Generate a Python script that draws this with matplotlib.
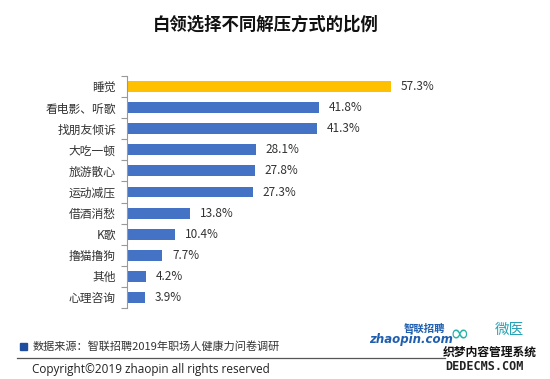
import matplotlib
matplotlib.use("Agg")
import matplotlib.pyplot as plt
from matplotlib.patches import Rectangle
from matplotlib.lines import Line2D

plt.rcParams['font.family'] = ['Noto Sans CJK SC', 'DejaVu Sans']

categories = ["睡觉", "看电影、听歌", "找朋友倾诉", "大吃一顿", "旅游散心", "运动减压",
              "借酒消愁", "K歌", "撸猫撸狗", "其他", "心理咨询"]
values = [57.3, 41.8, 41.3, 28.1, 27.8, 27.3, 13.8, 10.4, 7.7, 4.2, 3.9]
highlight = "睡觉"

title = "白领选择不同解压方式的比例"
source = "数据来源：智联招聘2019年职场人健康力问卷调研"
copyright_text = "Copyright©2019 zhaopin all rights reserved"

W, H = 550, 379
fig = plt.figure(figsize=(W / 100, H / 100), dpi=100)
fig.patch.set_facecolor("white")

def fx(px):
    return px / W

def fy(py):
    return 1 - py / H

ax = fig.add_axes([fx(127), fy(308), fx(400), (308 - 76) / H])
n = len(categories)
ypos = list(range(n))
colors = ["#FFC000" if c == highlight else "#4472C4" for c in categories]
ax.barh(ypos, values, height=0.52, color=colors)
ax.set_ylim(n - 0.5, -0.5)
ax.set_xlim(0, 400 / 4.6)
ax.set_yticks(ypos)
ax.set_yticklabels(categories, fontsize=8.5, color="#333333")
ax.tick_params(axis="y", which="major", length=0, pad=8)
ax.set_yticks([i - 0.5 for i in range(n + 1)], minor=True)
ax.tick_params(axis="y", which="minor", length=4, color="#999999", width=0.8)
ax.set_xticks([])
for s in ["top", "right", "bottom"]:
    ax.spines[s].set_visible(False)
ax.spines["left"].set_color("#999999")
ax.spines["left"].set_linewidth(0.8)

for y, v in zip(ypos, values):
    ax.annotate(f"{v:.1f}%", (v, y), xytext=(7, 0), textcoords="offset points",
                va="center", ha="left", fontsize=8.5, color="#333333")

fig.text(fx(266), fy(25), title, ha="center", va="center", fontsize=12.5,
         fontweight="bold", color="#111111")

# footer
fig.patches.append(Rectangle((fx(20), fy(350)), fx(7), 7 / H, transform=fig.transFigure,
                             color="#1F4E9E"))
fig.text(fx(33), fy(346), source, ha="left", va="center", fontsize=8, color="#333333")
fig.lines.append(Line2D([fx(17), fx(445)], [fy(358), fy(358)], transform=fig.transFigure,
                        color="#555555", linewidth=0.9))
fig.text(fx(32), fy(369), copyright_text, ha="left", va="center", fontsize=8.5,
         color="#222222", family=["Open Sans", "DejaVu Sans"])

# logos (approximate)
fig.text(fx(369), fy(340), "zhaopin.com", ha="left", va="center", fontsize=8.5,
         fontweight="bold", style="italic", color="#1F5FAF", family=["DejaVu Sans"])
fig.text(fx(404), fy(329), "智联招聘", ha="left", va="center", fontsize=7.5,
         fontweight="bold", style="italic", color="#1F5FAF")
fig.text(fx(450), fy(334), "∞", ha="left", va="center", fontsize=17,
         color="#27B3A6", family=["DejaVu Sans"])
fig.text(fx(495), fy(330), "微医", ha="left", va="center", fontsize=10.5, color="#27A3B6")
fig.text(fx(443), fy(352), "织梦内容管理系统", ha="left", va="center", fontsize=8.5,
         fontweight="bold", color="#111111")
fig.text(fx(445), fy(367), "DEDECMS.COM", ha="left", va="center", fontsize=8.5,
         fontweight="bold", color="#222222", family=["DejaVu Sans Mono"])

fig.savefig("out.png", dpi=100, facecolor="white")
